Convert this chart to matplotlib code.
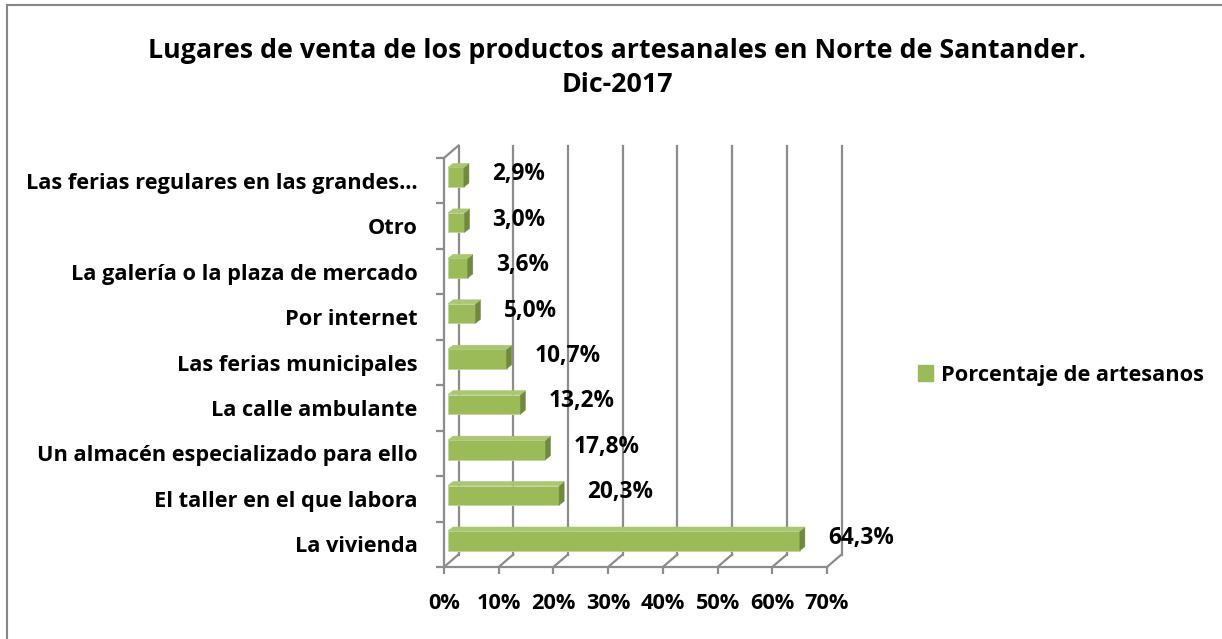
import numpy as np
import matplotlib.pyplot as plt
from matplotlib.patches import Polygon, Rectangle, Patch
from matplotlib.lines import Line2D
from matplotlib.ticker import FuncFormatter

# data (bottom to top)
categories = ['La vivienda', 'El taller en el que labora', 'Un almacén especializado para ello',
              'La calle ambulante', 'Las ferias municipales', 'Por internet',
              'La galería o la plaza de mercado', 'Otro', 'Las ferias regulares en las grandes…']
values = [64.3, 20.3, 17.8, 13.2, 10.7, 5.0, 3.6, 3.0, 2.9]
value_labels = ['64,3%', '20,3%', '17,8%', '13,2%', '10,7%', '5,0%', '3,6%', '3,0%', '2,9%']
series_name = 'Porcentaje de artesanos'
title = 'Lugares de venta de los productos artesanales en Norte de Santander.\nDic-2017'

plt.rcParams['font.family'] = ['Open Sans', 'DejaVu Sans']
plt.rcParams['font.weight'] = 'bold'
fs = 15.7

W, H = 1222, 639
fig = plt.figure(figsize=(W / 100, H / 100), dpi=100)

# front plane of the plot area in pixels
left, right, top, bottom = 444, 827, 158, 567
ax = fig.add_axes([left / W, 1 - bottom / H, (right - left) / W, (bottom - top) / H])
ax.set_xlim(0, 70)
ax.set_ylim(-0.5, 8.5)

px_x = 70 / (right - left)
px_y = 9 / (bottom - top)
Dx, Dy = 14.5 * px_x, 12.5 * px_y  # depth of the 3d box

grid_c = '#8c8c8c'
for k in range(0, 71, 10):
    ax.plot([k + Dx, k + Dx], [-0.5 + Dy, 8.5 + Dy], color=grid_c, lw=1.6, clip_on=False, zorder=1)
    ax.plot([k, k + Dx], [-0.5, -0.5 + Dy], color=grid_c, lw=1.6, clip_on=False, zorder=1)
ax.plot([0, Dx], [8.5, 8.5 + Dy], color=grid_c, lw=1.6, clip_on=False, zorder=1)

# bars
d = 0.28
ex, ey = 5 * px_x, 4 * px_y
h = 19.5 * px_y
for i, v in enumerate(values):
    x0 = d * Dx
    x1 = x0 + v
    yc = i + d * Dy
    yb, yt = yc - h / 2, yc + h / 2
    ax.add_patch(Rectangle((x0, yb), v, h, facecolor='#9bbb59', edgecolor='#c3d69b', lw=0.6, zorder=3))
    ax.add_patch(Polygon([(x1, yb), (x1 + ex, yb + ey), (x1 + ex, yt + ey), (x1, yt)],
                         closed=True, facecolor='#71893f', edgecolor='#71893f', lw=0.4, zorder=3))
    ax.add_patch(Polygon([(x0, yt), (x0 + ex, yt + ey), (x1 + ex, yt + ey), (x1, yt)],
                         closed=True, facecolor='#a9c670', edgecolor='#a9c670', lw=0.4, zorder=3))
    ax.text(x1 + 28 * px_x, yc + 3 * px_y, value_labels[i], fontsize=16.3, fontweight='bold',
            ha='left', va='center', zorder=4)

for s in ['top', 'right']:
    ax.spines[s].set_visible(False)
for s in ['left', 'bottom']:
    ax.spines[s].set_color(grid_c)
    ax.spines[s].set_linewidth(1.6)
ax.set_facecolor('none')

ax.set_xticks(range(0, 71, 10))
ax.xaxis.set_major_formatter(FuncFormatter(lambda x, p: f'{x:.0f}%'))
ax.tick_params(axis='x', length=5, width=1.6, color=grid_c, pad=14, labelsize=fs)
ax.set_yticks(np.arange(-0.5, 9, 1))
ax.set_yticklabels([])
ax.set_yticks(range(len(categories)), categories, minor=True)
ax.tick_params(axis='y', which='major', length=6, width=1.6, color=grid_c)
ax.tick_params(axis='y', which='minor', length=0, pad=19, labelsize=fs)
for lab in ax.get_xticklabels() + ax.get_yticklabels(minor=True):
    lab.set_fontweight('bold')

fig.text(617 / W, 1 - 68 / H, title, ha='center', va='center', fontsize=19.3,
         fontweight='bold', linespacing=1.4)

fig.legend(handles=[Patch(facecolor='#9bbb59', edgecolor='#9bbb59')], labels=[series_name],
           loc='center left', bbox_to_anchor=(907 / W, 1 - 375 / H), frameon=False,
           handlelength=0.7, handleheight=0.7, handletextpad=0.35, borderpad=0,
           prop={'size': fs, 'weight': 'bold'})

# outer frame (only left and top edges visible)
fig.add_artist(Line2D([7 / W, 7 / W], [0, 1 - 5 / H], color='#868686', lw=1.5))
fig.add_artist(Line2D([7 / W, 1], [1 - 5 / H, 1 - 5 / H], color='#868686', lw=1.5))

fig.savefig('out.png', dpi=100)
